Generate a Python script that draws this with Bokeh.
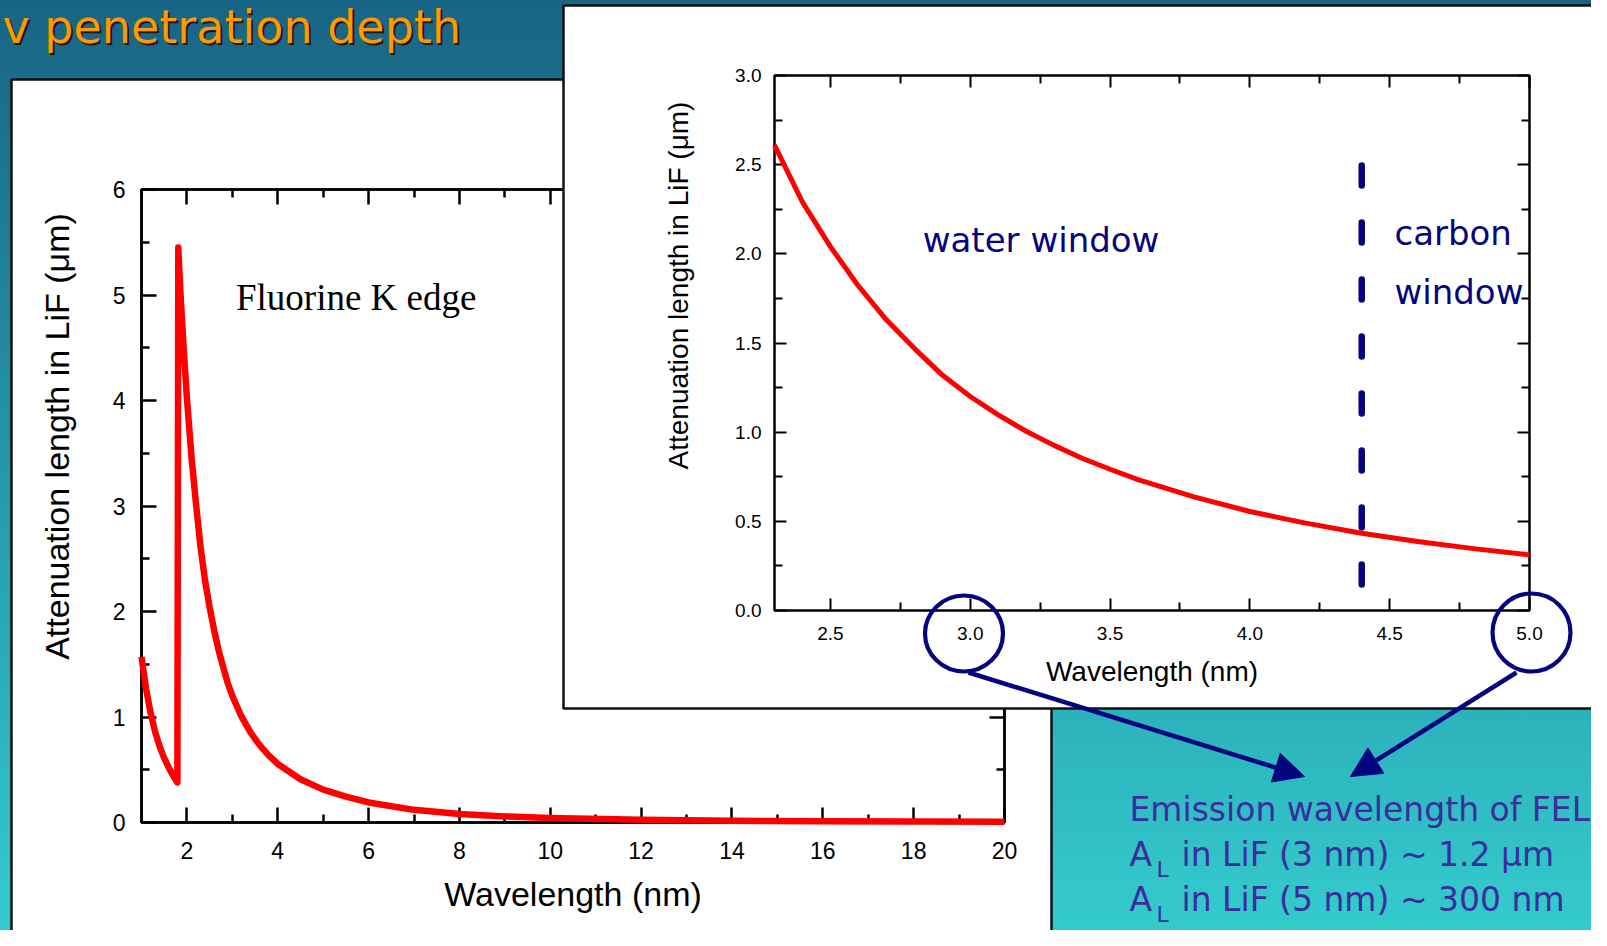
import math
from bokeh.plotting import figure
from bokeh.models import (Column, Range1d, LinearAxis, FixedTicker, Label, Arrow,
                          NormalHead, CustomJSTickFormatter, PrintfTickFormatter)
from bokeh.embed import file_html
from bokeh.resources import INLINE

# ---------------- data ----------------
# wide view: attenuation length of LiF, 1-20 nm (Fluorine K edge near 1.8 nm)
full_wavelength_nm = [1.0, 1.1, 1.2, 1.3, 1.4, 1.5, 1.6, 1.7, 1.79,
                      1.81, 1.83, 1.86, 1.9, 1.95, 2.0, 2.1, 2.2, 2.3, 2.4, 2.5,
                      2.6, 2.7, 2.8, 2.9, 3.0, 3.2, 3.4, 3.6, 3.8, 4.0, 4.5, 5.0,
                      5.5, 6.0, 7.0, 8.0, 9.0, 10.0, 12.0, 14.0, 16.0, 18.0, 20.0]
full_atten_um = [1.57, 1.27, 1.04, 0.86, 0.72, 0.61, 0.52, 0.44, 0.38,
                 5.45, 5.25, 5.0, 4.7, 4.35, 4.02, 3.47, 3.02, 2.61, 2.29, 2.04,
                 1.82, 1.63, 1.47, 1.32, 1.20, 1.005, 0.854, 0.734, 0.637, 0.555, 0.41, 0.312,
                 0.245, 0.19, 0.12, 0.08, 0.058, 0.043, 0.026, 0.017, 0.012, 0.009, 0.007]
full_x_ticks = [2, 4, 6, 8, 10, 12, 14, 16, 18, 20]
full_x_minor = [1, 3, 5, 7, 9, 11, 13, 15, 17, 19]
full_y_ticks = [0, 1, 2, 3, 4, 5, 6]
full_y_minor = [0.5, 1.5, 2.5, 3.5, 4.5, 5.5]

# zoomed view: 2.3-5.0 nm
zoom_wavelength_nm = [2.3, 2.4, 2.5, 2.6, 2.7, 2.8, 2.9, 3.0, 3.1, 3.2, 3.3, 3.4, 3.5,
                      3.6, 3.8, 4.0, 4.2, 4.4, 4.6, 4.8, 5.0]
zoom_atten_um = [2.61, 2.29, 2.04, 1.82, 1.63, 1.47, 1.32, 1.20, 1.097, 1.005, 0.926, 0.854,
                 0.792, 0.734, 0.637, 0.555, 0.49, 0.433, 0.387, 0.347, 0.312]
zoom_x_ticks = [2.5, 3.0, 3.5, 4.0, 4.5, 5.0]
zoom_x_minor = [2.75, 3.25, 3.75, 4.25, 4.75]
zoom_y_ticks = [0.0, 0.5, 1.0, 1.5, 2.0, 2.5, 3.0]
zoom_y_minor = [0.25, 0.75, 1.25, 1.75, 2.25, 2.75]
carbon_edge_nm = 4.4
carbon_line_um = [2.495, 0.09]

Y_TITLE = "Attenuation length in LiF (\u03bcm)"
X_TITLE = "Wavelength (nm)"

# ---------------- page geometry (page pixels) ----------------
W, H = 1591, 930
BL, BR = 50, 20           # common left/right borders (the column aligns plot frames)

AX_FONT = "Liberation Sans"
HAND_FONT = "DejaVu Sans"
NAVY = "#05057f"
TEXT_BLUE = "#3a2e9e"
SHIFT = 0.38              # label baseline correction, in em


def style_axis(ax, major_in, minor_in, lw, tick_px, standoff, label_px=1, label_standoff=0):
    ax.major_tick_in = major_in
    ax.major_tick_out = 0
    ax.minor_tick_in = minor_in
    ax.minor_tick_out = 0
    for a in ("axis_line", "major_tick_line", "minor_tick_line"):
        setattr(ax, a + "_color", "black")
        setattr(ax, a + "_width", lw)
    ax.major_label_text_font = AX_FONT
    ax.major_label_text_font_size = f"{tick_px}px"
    ax.major_label_text_color = "black"
    ax.major_label_standoff = standoff
    ax.axis_label_text_font = AX_FONT
    ax.axis_label_text_font_style = "normal"
    ax.axis_label_text_font_size = f"{label_px}px"
    ax.axis_label_text_color = "black"
    ax.axis_label_standoff = label_standoff


def add_mirrors(p, xt, xm, yt, ym, major_in, minor_in, lw):
    blank = CustomJSTickFormatter(code="return ''")
    top = LinearAxis(ticker=FixedTicker(ticks=xt, minor_ticks=xm), formatter=blank)
    right = LinearAxis(ticker=FixedTicker(ticks=yt, minor_ticks=ym), formatter=blank)
    for ax, loc in ((top, "above"), (right, "right")):
        style_axis(ax, major_in, minor_in, lw, 1, 0)
        p.add_layout(ax, loc)


def pos(left, top):
    return {"position": "absolute", "left": f"{left}px", "top": f"{top}px"}


def white_box(left, top, width, height):
    """White slide panel with a thin black border; its frame is the panel itself."""
    pad = 2
    b = figure(width=BL + width + BR, height=height + 2 * pad,
               output_backend="svg", toolbar_location=None,
               x_axis_location=None, y_axis_location=None,
               min_border_left=BL, min_border_right=BR,
               min_border_top=pad, min_border_bottom=pad,
               background_fill_color="white", border_fill_alpha=0,
               outline_line_color="#111111", outline_line_width=2.5)
    b.grid.visible = False
    b.styles = pos(left - BL, top - pad)
    return b


def chart(frame, top, height, xr, yr, lw):
    fx0, fy0, fx1, fy1 = frame
    width = BL + (fx1 - fx0) + BR
    p = figure(width=width, height=height, x_range=xr, y_range=yr,
               output_backend="svg", toolbar_location=None,
               min_border_left=BL, min_border_right=BR,
               min_border_top=fy0 - top, min_border_bottom=height - (fy1 - top),
               background_fill_color="white", border_fill_alpha=0,
               outline_line_color="black", outline_line_width=lw)
    p.grid.visible = False
    p.styles = pos(fx0 - BL, top)
    return p


def overlay(left):
    """Transparent full-height layer whose frame maps page pixels one to one."""
    o = figure(width=W, height=H, x_range=Range1d(left + BL, left + W - BR), y_range=Range1d(H, 0),
               output_backend="svg", toolbar_location=None,
               x_axis_location=None, y_axis_location=None,
               min_border_left=BL, min_border_right=BR, min_border_top=0, min_border_bottom=0,
               background_fill_alpha=0, border_fill_alpha=0, outline_line_color=None)
    o.grid.visible = False
    o.styles = pos(left, 0)
    return o


# ---------------- wide chart ----------------
box_main = white_box(11, 79, 1040, 900)
main = chart((141, 189, 1004, 822), 79, 900, Range1d(1, 20), Range1d(0, 6), 2.5)
main.xaxis.ticker = FixedTicker(ticks=full_x_ticks, minor_ticks=full_x_minor)
main.yaxis.ticker = FixedTicker(ticks=full_y_ticks, minor_ticks=full_y_minor)
main.xaxis.axis_label = X_TITLE
style_axis(main.xaxis[0], 15, 8, 2.5, 23, 19, 34, 13)
style_axis(main.yaxis[0], 15, 8, 2.5, 23, 16)
add_mirrors(main, full_x_ticks, full_x_minor, full_y_ticks, full_y_minor, 15, 8, 2.5)
main.line(full_wavelength_nm, full_atten_um, line_color="#ff0000", line_width=6.5,
          line_join="round", level="overlay")
main.add_layout(Label(x=3.08, y=4.975, text="Fluorine K edge", text_font="Liberation Serif",
                      text_font_size="37px", text_color="black", text_baseline="alphabetic"))

# ---------------- zoomed chart ----------------
box_inset = white_box(563, 5, 1042, 703)
inset = chart((774, 75, 1529, 610), 5, 703, Range1d(2.3, 5.0), Range1d(0, 3.0), 2)
inset.xaxis.ticker = FixedTicker(ticks=zoom_x_ticks, minor_ticks=zoom_x_minor)
inset.yaxis.ticker = FixedTicker(ticks=zoom_y_ticks, minor_ticks=zoom_y_minor)
inset.xaxis.formatter = PrintfTickFormatter(format="%.1f")
inset.yaxis.formatter = PrintfTickFormatter(format="%.1f")
inset.xaxis.axis_label = X_TITLE
style_axis(inset.xaxis[0], 12, 8, 2, 19, 16, 28, 13)
style_axis(inset.yaxis[0], 12, 8, 2, 19, 13)
add_mirrors(inset, zoom_x_ticks, zoom_x_minor, zoom_y_ticks, zoom_y_minor, 12, 8, 2)
inset.line(zoom_wavelength_nm, zoom_atten_um, line_color="#ff0000", line_width=5,
           line_join="round", level="overlay")
inset.line([carbon_edge_nm, carbon_edge_nm], carbon_line_um, line_color=NAVY, line_width=6.5,
           line_dash="20 37", line_cap="round")
for x, y, t in ((2.83, 2.075, "water window"), (4.517, 2.118, "carbon"), (4.517, 1.786, "window")):
    inset.add_layout(Label(x=x, y=y, text=t, text_font=HAND_FONT, text_font_size="34px",
                           text_color=NAVY, text_baseline="alphabetic"))

# ---------------- overlays: title, axis titles, circles, arrows, note ----------------
ov_a = overlay(-BL)        # frame covers page x 0 .. W-BL-BR
ov_b = overlay(BL + BR)    # frame covers page x BL+BR .. W


def note(o, x, base, text, size, color, font=HAND_FONT):
    o.add_layout(Label(x=x, y=base - SHIFT * size, text=text, text_font=font,
                       text_font_size=f"{size}px", text_color=color,
                       text_baseline="alphabetic"))


note(ov_a, 4, 46, "v penetration depth", 46, "#1a1a1a")
note(ov_a, 2, 44, "v penetration depth", 46, "#ff9900")

# y-axis titles (sitting above the axis centre, as in the original)
ov_a.add_layout(Label(x=56, y=436, text=Y_TITLE, angle=math.pi / 2, text_align="center",
                      text_baseline="middle", text_font=AX_FONT, text_font_size="34px",
                      text_color="black"))
ov_a.add_layout(Label(x=678, y=285, text=Y_TITLE, angle=math.pi / 2, text_align="center",
                      text_baseline="middle", text_font=AX_FONT, text_font_size="28px",
                      text_color="black"))

ov_a.ellipse(x=[963.5], y=[633], width=[78], height=[76],
             fill_color=None, line_color=NAVY, line_width=4.2)
ov_b.ellipse(x=[1531], y=[632], width=[78], height=[78],
             fill_color=None, line_color=NAVY, line_width=4.2)
ov_a.add_layout(Arrow(end=NormalHead(size=30, fill_color=NAVY, line_color=NAVY),
                      x_start=968, y_start=672, x_end=1304, y_end=776,
                      line_color=NAVY, line_width=4.5))
ov_b.add_layout(Arrow(end=NormalHead(size=30, fill_color=NAVY, line_color=NAVY),
                      x_start=1516, y_start=672, x_end=1350, y_end=776,
                      line_color=NAVY, line_width=4.5))

note(ov_b, 1129, 822, "Emission wavelength of FEL", 33, TEXT_BLUE)
for base, rest in ((867, "in LiF (3 nm) ~ 1.2 \u03bcm"), (912, "in LiF (5 nm) ~ 300 nm")):
    note(ov_b, 1129, base, "A", 33, TEXT_BLUE)
    note(ov_b, 1156, base + 10, "L", 22, TEXT_BLUE)
    note(ov_b, 1181, base, rest, 33, TEXT_BLUE)

root = Column(children=[box_main, main, box_inset, inset, ov_a, ov_b], width=W, height=H,
              styles={"position": "relative", "overflow": "hidden",
                      "background": "linear-gradient(180deg, #186484 0%, #2cafba 74%, #34cbcd 100%)"})

open("out.html", "w").write(file_html(root, INLINE))
